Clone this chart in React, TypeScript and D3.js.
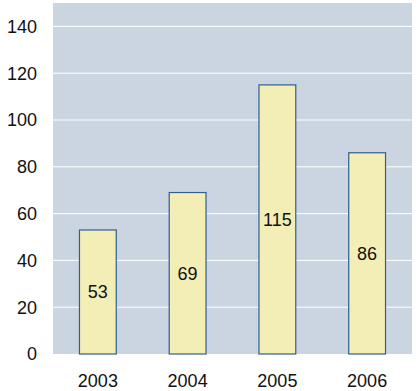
import * as d3 from "d3";

const years = ["2003", "2004", "2005", "2006"];
const values = [53, 69, 115, 86];
const yTicks = [0, 20, 40, 60, 80, 100, 120, 140];

const W = 417;
const H = 391;
const margin = { top: 3, right: 5, bottom: 37, left: 53 };

export default function App() {
  const width = W - margin.left - margin.right;
  const height = H - margin.top - margin.bottom;

  const x = d3.scaleBand<string>().domain(years).range([0, width]).paddingInner(0.59).paddingOuter(0.295);
  const y = d3.scaleLinear().domain([0, 150]).range([height, 0]);

  return (
    <svg
      width={W}
      height={H}
      style={{ position: "absolute", left: 0, top: 0, fontFamily: "Liberation Sans, Arial, sans-serif" }}
    >
      <g transform={`translate(${margin.left},${margin.top})`}>
        <rect x={0} y={0} width={width} height={height} fill="#cbd5e1" />
        {yTicks.slice(1).map((t) => (
          <line key={t} x1={0} x2={width} y1={y(t)} y2={y(t)} stroke="#ffffff" strokeWidth={1} />
        ))}
        {yTicks.map((t) => (
          <text key={t} x={-16} y={y(t)} dy="0.35em" textAnchor="end" fontSize={18} fill="#111">
            {t}
          </text>
        ))}
        {years.map((yr, i) => (
          <g key={yr}>
            <rect
              x={x(yr)!}
              y={y(values[i])}
              width={x.bandwidth()}
              height={height - y(values[i])}
              fill="#f2eeb6"
              stroke="#2e5f8f"
              strokeWidth={1.2}
            />
            <text
              x={x(yr)! + x.bandwidth() / 2}
              y={(y(values[i]) + height) / 2}
              dy="0.35em"
              textAnchor="middle"
              fontSize={18}
              fill="#111"
            >
              {values[i]}
            </text>
            <text x={x(yr)! + x.bandwidth() / 2} y={height + 27} dy="0.35em" textAnchor="middle" fontSize={18} fill="#111">
              {yr}
            </text>
          </g>
        ))}
      </g>
    </svg>
  );
}
